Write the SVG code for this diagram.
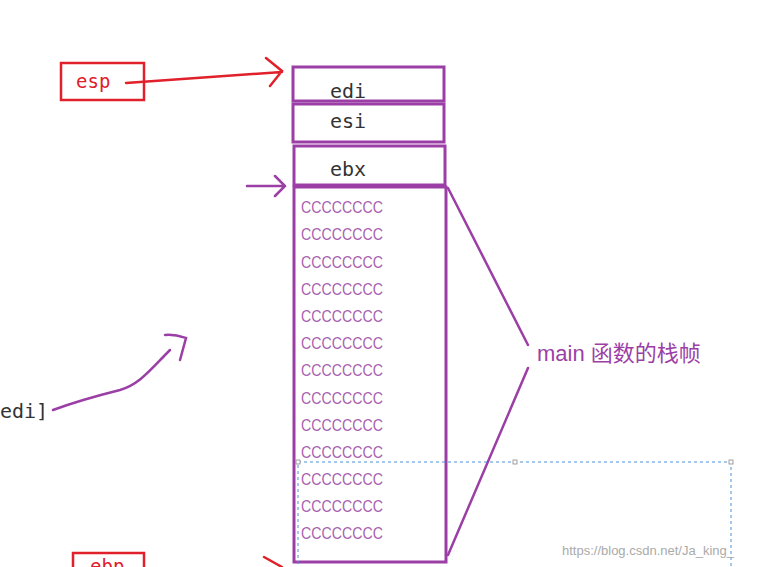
<svg xmlns="http://www.w3.org/2000/svg" width="780" height="567" viewBox="0 0 780 567">
<style>
.box{fill:none;stroke:#9b3fa6;stroke-width:3}
.reg{font-family:"DejaVu Sans Mono",monospace;font-size:20px;fill:#333}
.cc{font-family:"Liberation Sans",sans-serif;font-size:17px;fill:#a85fb0}
.pl{fill:none;stroke:#9b3fa6;stroke-width:2.5;stroke-linecap:round}
.rl{fill:none;stroke:#e0202a;stroke-width:2.5;stroke-linecap:round}
</style>
<rect width="780" height="567" fill="#fff"/>
<g id="esp"><rect x="61" y="63" width="83" height="37" fill="none" stroke="#e0202a" stroke-width="2.5"/><text x="76" y="88" font-family="DejaVu Sans Mono,monospace" font-size="19" fill="#e0202a">esp</text></g>
<g id="ebp"><rect x="73" y="553" width="71" height="30" fill="none" stroke="#e0202a" stroke-width="2.5"/><text x="90" y="573" font-family="DejaVu Sans Mono,monospace" font-size="19" fill="#e0202a">ebp</text></g>
<g id="edi"><rect class="box" x="293" y="67" width="151" height="34"/><text class="reg" x="330" y="98">edi</text></g>
<g id="esi"><rect class="box" x="293" y="104" width="151" height="38"/><text class="reg" x="330" y="128">esi</text></g>
<g id="ebx"><rect class="box" x="294" y="146" width="151" height="39"/><text class="reg" x="330" y="176">ebx</text></g>
<g id="frame"><rect class="box" x="294" y="187" width="152" height="375"/>
<g class="cc">
<text x="301" y="213" textLength="82" lengthAdjust="spacingAndGlyphs">CCCCCCCC</text><text x="301" y="240" textLength="82" lengthAdjust="spacingAndGlyphs">CCCCCCCC</text><text x="301" y="268" textLength="82" lengthAdjust="spacingAndGlyphs">CCCCCCCC</text><text x="301" y="295" textLength="82" lengthAdjust="spacingAndGlyphs">CCCCCCCC</text><text x="301" y="322" textLength="82" lengthAdjust="spacingAndGlyphs">CCCCCCCC</text><text x="301" y="349" textLength="82" lengthAdjust="spacingAndGlyphs">CCCCCCCC</text><text x="301" y="376" textLength="82" lengthAdjust="spacingAndGlyphs">CCCCCCCC</text><text x="301" y="404" textLength="82" lengthAdjust="spacingAndGlyphs">CCCCCCCC</text><text x="301" y="431" textLength="82" lengthAdjust="spacingAndGlyphs">CCCCCCCC</text><text x="301" y="458" textLength="82" lengthAdjust="spacingAndGlyphs">CCCCCCCC</text><text x="301" y="485" textLength="82" lengthAdjust="spacingAndGlyphs">CCCCCCCC</text><text x="301" y="512" textLength="82" lengthAdjust="spacingAndGlyphs">CCCCCCCC</text><text x="301" y="539" textLength="82" lengthAdjust="spacingAndGlyphs">CCCCCCCC</text>
</g></g>
<g id="label"><text x="537" y="361" font-family="Liberation Sans,Noto Sans CJK SC,sans-serif" font-size="22" fill="#9b3fa6">main 函数的栈帧</text></g>
<text x="0" y="418" class="reg">edi]</text>
<g id="connectors">
<path class="rl" d="M126,83 L282,72 M266,58 L282,71 L270,86"/>
<path class="pl" d="M247,186 L285,186 M275,176 L285,186 L275,196"/>
<path class="pl" d="M448,188 L528,345 M528,368 L448,555"/>
<path class="pl" d="M53,410 C80,400 100,395 120,390 C140,384 150,370 170,350 M165,335 C175,334 180,336 186,338 L180,360"/>
<path class="rl" d="M264,557 L282,567"/>
</g>
<rect x="298" y="462" width="433" height="110" fill="none" stroke="#4a90d9" stroke-width="1" stroke-dasharray="3,3"/>
<rect x="296" y="460" width="4" height="4" fill="#fff" stroke="#888" stroke-width="0.8"/>
<rect x="513" y="460" width="4" height="4" fill="#fff" stroke="#888" stroke-width="0.8"/>
<rect x="729" y="460" width="4" height="4" fill="#fff" stroke="#888" stroke-width="0.8"/>
<text x="562" y="555" font-family="Liberation Sans,sans-serif" font-size="13" fill="#aaa">https://blog.csdn.net/Ja_king_</text>
</svg>
